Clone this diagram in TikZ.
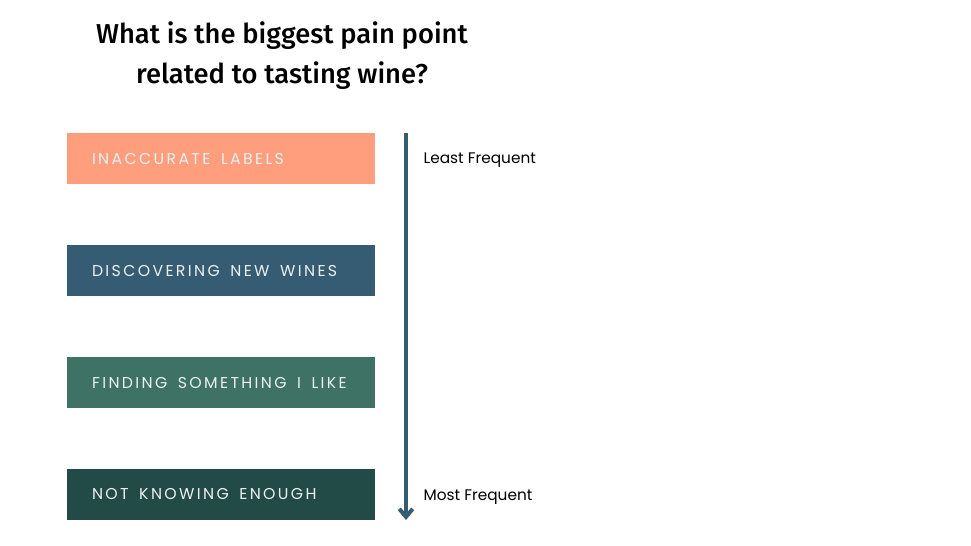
\documentclass[tikz,border=0pt]{standalone}
\usepackage{fontspec}
\setmainfont{Poppins}
\newfontfamily\titlefont[UprightFont=* Medium]{Fira Sans}
\newfontfamily\capsfont[LetterSpace=15]{Poppins}
\newcommand{\capgap}{\hspace{4pt}}
\usetikzlibrary{arrows.meta}

\definecolor{salmon}{HTML}{FF9E7C}
\definecolor{slateblue}{HTML}{355C72}
\definecolor{seagreen}{HTML}{3D7264}
\definecolor{darkgreen}{HTML}{224B47}
\definecolor{captext}{HTML}{EAF0F0}

\tikzset{
    painbox/.style={rectangle, minimum width=231pt, minimum height=38.25pt,
        text width=231pt, inner xsep=0pt, align=left,
        text=captext, font=\capsfont\fontsize{11.8}{13}\selectfont},
    scale label/.style={anchor=west, font=\fontsize{11.5}{13}\selectfont}
}

\begin{document}
\begin{tikzpicture}[x=0.75pt,y=-0.75pt,>={Straight Barb[length=6pt,width=10pt]}]
        \useasboundingbox (0,0) rectangle (971,546);

        \node[font=\titlefont\fontsize{20.5}{30}\selectfont, align=center] (title) at (282,56)
            {What is the biggest pain point\\related to tasting wine?};

        \node[painbox, fill=salmon] (labels) at (221,158.5) {\hspace*{18.75pt}INACCURATE \capgap LABELS};
        \node[painbox, fill=slateblue] (discover) at (221,270.5) {\hspace*{18.75pt}DISCOVERING \capgap NEW \capgap WINES};
        \node[painbox, fill=seagreen] (finding) at (221,382.5) {\hspace*{18.75pt}FINDING \capgap SOMETHING \capgap I \capgap LIKE};
        \node[painbox, fill=darkgreen] (knowing) at (221,494.5) {\hspace*{18.75pt}NOT \capgap KNOWING \capgap ENOUGH};

        \coordinate (top) at (406,133);
        \coordinate (bottom) at (406,520);
        \draw[->, slateblue, line width=3pt] (top) -- (bottom);

        \node[scale label] (least) at (419,160) {Least Frequent};
        \node[scale label] (most) at (419,497) {Most Frequent};
    \end{tikzpicture}
\end{document}
